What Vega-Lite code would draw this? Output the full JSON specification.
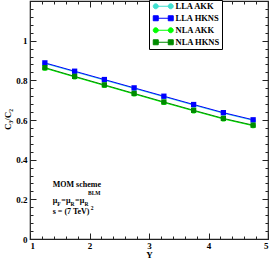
{
  "$schema": "https://vega.github.io/schema/vega-lite/v6.json",
  "width": 238,
  "height": 238,
  "autosize": {"type": "none"},
  "padding": {"left": 30, "top": 1, "right": 3, "bottom": 21},
  "datasets": {
    "series": [
      {"s": "LLA AKK", "Y": 1.25, "v": 0.885}, {"s": "LLA AKK", "Y": 1.75, "v": 0.843}, {"s": "LLA AKK", "Y": 2.25, "v": 0.801}, {"s": "LLA AKK", "Y": 2.75, "v": 0.759},
      {"s": "LLA AKK", "Y": 3.25, "v": 0.717}, {"s": "LLA AKK", "Y": 3.75, "v": 0.675}, {"s": "LLA AKK", "Y": 4.25, "v": 0.634}, {"s": "LLA AKK", "Y": 4.75, "v": 0.598},
      {"s": "LLA HKNS", "Y": 1.25, "v": 0.888}, {"s": "LLA HKNS", "Y": 1.75, "v": 0.846}, {"s": "LLA HKNS", "Y": 2.25, "v": 0.804}, {"s": "LLA HKNS", "Y": 2.75, "v": 0.762},
      {"s": "LLA HKNS", "Y": 3.25, "v": 0.720}, {"s": "LLA HKNS", "Y": 3.75, "v": 0.678}, {"s": "LLA HKNS", "Y": 4.25, "v": 0.637}, {"s": "LLA HKNS", "Y": 4.75, "v": 0.601},
      {"s": "NLA AKK", "Y": 1.25, "v": 0.861}, {"s": "NLA AKK", "Y": 1.75, "v": 0.817}, {"s": "NLA AKK", "Y": 2.25, "v": 0.774}, {"s": "NLA AKK", "Y": 2.75, "v": 0.731},
      {"s": "NLA AKK", "Y": 3.25, "v": 0.688}, {"s": "NLA AKK", "Y": 3.75, "v": 0.646}, {"s": "NLA AKK", "Y": 4.25, "v": 0.605}, {"s": "NLA AKK", "Y": 4.75, "v": 0.571},
      {"s": "NLA HKNS", "Y": 1.25, "v": 0.864}, {"s": "NLA HKNS", "Y": 1.75, "v": 0.820}, {"s": "NLA HKNS", "Y": 2.25, "v": 0.777}, {"s": "NLA HKNS", "Y": 2.75, "v": 0.734},
      {"s": "NLA HKNS", "Y": 3.25, "v": 0.691}, {"s": "NLA HKNS", "Y": 3.75, "v": 0.649}, {"s": "NLA HKNS", "Y": 4.25, "v": 0.608}, {"s": "NLA HKNS", "Y": 4.75, "v": 0.574}
    ],
    "main": [
      {"x": 1.382, "y": 0.270, "t": "MOM scheme"},
      {"x": 1.382, "y": 0.191, "t": "μ"},
      {"x": 1.524, "y": 0.191, "t": "="},
      {"x": 1.605, "y": 0.191, "t": "μ"},
      {"x": 1.756, "y": 0.191, "t": "="},
      {"x": 1.837, "y": 0.191, "t": "μ"},
      {"x": 1.382, "y": 0.134, "t": "s = (7 TeV)"}
    ],
    "subs": [
      {"x": 1.459, "y": 0.176, "t": "F"},
      {"x": 1.682, "y": 0.176, "t": "R"},
      {"x": 1.914, "y": 0.176, "t": "R"}
    ],
    "sups": [
      {"x": 1.975, "y": 0.231, "t": "BLM"},
      {"x": 2.022, "y": 0.157, "t": "2"}
    ]
  },
  "resolve": {"axis": {"x": "independent", "y": "independent"}},
  "layer": [
    {
      "data": {"name": "series"},
      "mark": {"type": "line", "strokeWidth": 1},
      "encoding": {
        "x": {"field": "Y", "type": "quantitative", "scale": {"domain": [1, 5], "nice": false, "zero": false},
              "axis": {"orient": "bottom", "values": [1, 2, 3, 4, 5], "ticks": false, "domain": false, "grid": false, "labelPadding": 2, "title": "Y", "titleX": 119, "titleY": 15, "titleBaseline": "middle"}},
        "y": {"field": "v", "type": "quantitative", "scale": {"domain": [0, 1.2], "nice": false},
              "axis": {"orient": "left", "values": [0, 0.2, 0.4, 0.6, 0.8, 1.0], "format": "~g", "ticks": false, "domain": false, "grid": false, "labelPadding": 3, "title": "C₃/C₂", "titleX": -23, "titleY": 118, "titleBaseline": "middle"}},
        "color": {"field": "s", "type": "nominal",
                  "scale": {"domain": ["LLA AKK", "LLA HKNS", "NLA AKK", "NLA HKNS"], "range": ["#40e0d0", "#0000ff", "#00ff00", "#008a00"]},
                  "legend": {
                    "orient": "none", "legendX": 119, "legendY": -1, "title": null,
                    "encode": {"symbols": {"update": {
                      "shape": {"signal": "indexof(datum.value, 'AKK') >= 0 ? 'M-3,0H3M-4,0A1,1 0 1,0 -2,0A1,1 0 1,0 -4,0ZM2,0A1,1 0 1,0 4,0A1,1 0 1,0 2,0Z' : 'M-3,0H3M-4,-1H-2V1H-4ZM2,-1H4V1H2Z'"},
                      "fill": {"scale": "color", "field": "value"},
                      "stroke": {"scale": "color", "field": "value"},
                      "opacity": {"value": 1}
                    }}}
                  }}
      }
    },
    {
      "data": {"name": "series"},
      "transform": [{"filter": "indexof(datum.s, 'AKK') >= 0"}],
      "mark": {"type": "circle", "opacity": 1, "size": 26},
      "encoding": {
        "x": {"field": "Y", "type": "quantitative",
              "axis": {"orient": "bottom", "values": [1, 2, 3, 4, 5], "tickSize": -6, "labels": false, "domain": false, "grid": false, "title": null}},
        "y": {"field": "v", "type": "quantitative",
              "axis": {"orient": "left", "values": [0, 0.2, 0.4, 0.6, 0.8, 1.0], "tickSize": -6, "labels": false, "domain": false, "grid": false, "title": null}},
        "color": {"field": "s", "type": "nominal"}
      }
    },
    {
      "data": {"name": "series"},
      "transform": [{"filter": "indexof(datum.s, 'HKNS') >= 0"}],
      "mark": {"type": "square", "opacity": 1, "size": 28},
      "encoding": {
        "x": {"field": "Y", "type": "quantitative",
              "axis": {"orient": "top", "values": [1, 2, 3, 4, 5], "tickSize": -6, "labels": false, "domain": false, "grid": false, "title": null}},
        "y": {"field": "v", "type": "quantitative",
              "axis": {"orient": "right", "values": [0, 0.2, 0.4, 0.6, 0.8, 1.0], "tickSize": -6, "labels": false, "domain": false, "grid": false, "title": null}},
        "color": {"field": "s", "type": "nominal"}
      }
    },
    {
      "data": {"name": "main"},
      "mark": {"type": "text", "align": "left", "baseline": "middle", "font": "Liberation Serif", "fontWeight": "bold", "fontSize": 8, "color": "black"},
      "encoding": {
        "x": {"field": "x", "type": "quantitative",
              "axis": {"orient": "bottom", "values": [1.2, 1.4, 1.6, 1.8, 2.2, 2.4, 2.6, 2.8, 3.2, 3.4, 3.6, 3.8, 4.2, 4.4, 4.6, 4.8], "tickSize": -3, "labels": false, "domain": false, "grid": false, "title": null}},
        "y": {"field": "y", "type": "quantitative",
              "axis": {"orient": "left", "values": [0.04, 0.08, 0.12, 0.16, 0.24, 0.28, 0.32, 0.36, 0.44, 0.48, 0.52, 0.56, 0.64, 0.68, 0.72, 0.76, 0.84, 0.88, 0.92, 0.96, 1.04, 1.08, 1.12, 1.16], "tickSize": -3, "labels": false, "domain": false, "grid": false, "title": null}},
        "text": {"field": "t"}
      }
    },
    {
      "data": {"name": "subs"},
      "mark": {"type": "text", "align": "left", "baseline": "middle", "font": "Liberation Serif", "fontWeight": "bold", "fontSize": 5.5, "color": "black"},
      "encoding": {
        "x": {"field": "x", "type": "quantitative", "axis": null},
        "y": {"field": "y", "type": "quantitative", "axis": null},
        "text": {"field": "t"}
      }
    },
    {
      "data": {"name": "sups"},
      "mark": {"type": "text", "align": "left", "baseline": "middle", "font": "Liberation Serif", "fontWeight": "bold", "fontSize": 5.5, "color": "black"},
      "encoding": {
        "x": {"field": "x", "type": "quantitative",
              "axis": {"orient": "top", "values": [1.2, 1.4, 1.6, 1.8, 2.2, 2.4, 2.6, 2.8, 3.2, 3.4, 3.6, 3.8, 4.2, 4.4, 4.6, 4.8], "tickSize": -3, "labels": false, "domain": false, "grid": false, "title": null}},
        "y": {"field": "y", "type": "quantitative",
              "axis": {"orient": "right", "values": [0.04, 0.08, 0.12, 0.16, 0.24, 0.28, 0.32, 0.36, 0.44, 0.48, 0.52, 0.56, 0.64, 0.68, 0.72, 0.76, 0.84, 0.88, 0.92, 0.96, 1.04, 1.08, 1.12, 1.16], "tickSize": -3, "labels": false, "domain": false, "grid": false, "title": null}},
        "text": {"field": "t"}
      }
    }
  ],
  "config": {
    "view": {"stroke": "#222222", "strokeWidth": 1.2},
    "axis": {"labelFont": "Liberation Serif", "labelFontSize": 9, "labelFontWeight": "bold", "labelColor": "black",
             "titleFont": "Liberation Serif", "titleFontSize": 9, "titleFontWeight": "bold", "titleColor": "black",
             "tickColor": "#222222", "tickWidth": 1},
    "legend": {
      "strokeColor": "black", "fillColor": "white", "padding": 2, "strokeWidth": 1,
      "symbolSize": 25, "symbolOffset": 8, "labelOffset": 8, "rowPadding": 2,
      "labelFont": "Liberation Serif", "labelFontSize": 8.5, "labelFontWeight": "bold", "labelColor": "black",
      "symbolStrokeWidth": 1, "symbolOpacity": 1
    }
  }
}
